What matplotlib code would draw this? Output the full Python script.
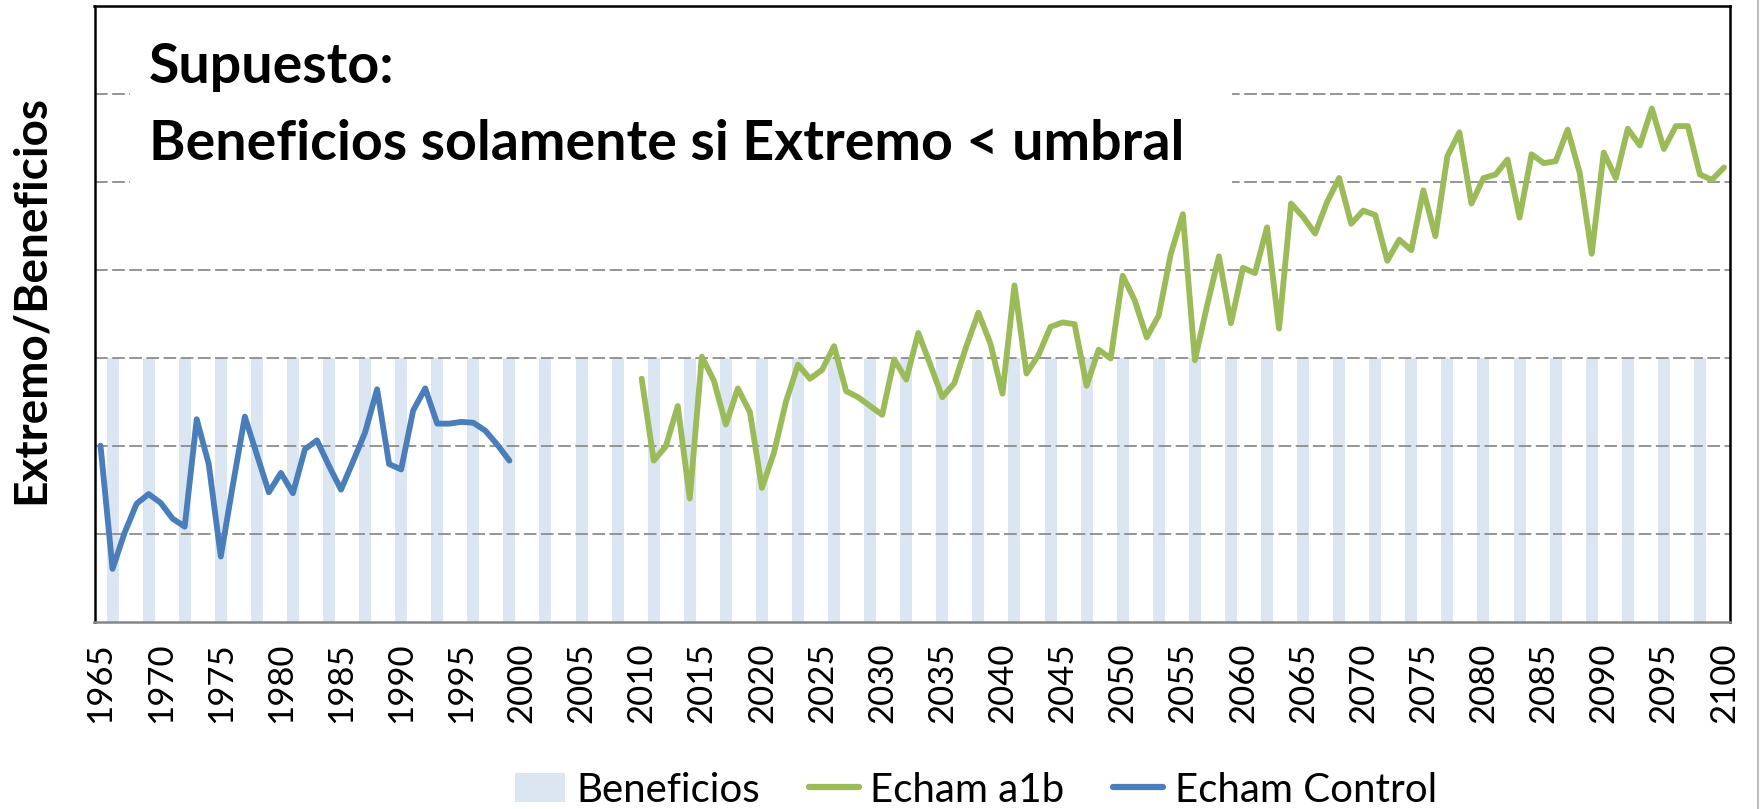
import matplotlib
matplotlib.use("Agg")
import matplotlib.pyplot as plt
from matplotlib.patches import Rectangle
from matplotlib.lines import Line2D

plt.rcParams['font.family'] = ['Lato', 'DejaVu Sans']

# Serie de control (Echam Control), 1965-1999
anios_control = list(range(1965, 2000))
echam_control = [2.00, 0.60, 1.01, 1.34, 1.45, 1.35, 1.17, 1.08, 2.30, 1.79,
                 0.74, 1.55, 2.33, 1.90, 1.47, 1.69, 1.46, 1.96, 2.06, 1.77,
                 1.50, 1.82, 2.15, 2.64, 1.79, 1.73, 2.40, 2.65, 2.25, 2.25,
                 2.27, 2.26, 2.17, 2.01, 1.83]

# Escenario a1b, 2010-2100
anios_a1b = list(range(2010, 2101))
echam_a1b = [2.76, 1.83, 1.99, 2.45, 1.40, 3.01, 2.74, 2.24, 2.65, 2.38,
             1.52, 1.92, 2.50, 2.92, 2.76, 2.86, 3.13, 2.62, 2.55, 2.45,
             2.35, 2.98, 2.75, 3.28, 2.92, 2.55, 2.71, 3.13, 3.51, 3.16,
             2.59, 3.82, 2.82, 3.03, 3.35, 3.40, 3.38, 2.68, 3.09, 2.99,
             3.93, 3.65, 3.23, 3.48, 4.18, 4.63, 2.97, 3.58, 4.15, 3.39,
             4.02, 3.96, 4.48, 3.33, 4.75, 4.60, 4.41, 4.77, 5.04, 4.52,
             4.67, 4.62, 4.10, 4.34, 4.22, 4.90, 4.38, 5.29, 5.56, 4.75,
             5.04, 5.08, 5.25, 4.59, 5.31, 5.21, 5.23, 5.59, 5.10, 4.18,
             5.33, 5.04, 5.60, 5.41, 5.83, 5.37, 5.63, 5.63, 5.08, 5.02,
             5.16]

# Beneficios (umbral = 3)
anios_benef = list(range(1966, 2099, 3))
beneficios = [3, 3, 3, 3, 3, 3, 3, 3, 3, 3, 3, 3, 3, 3, 3,
              3, 3, 3, 3, 3, 3, 3, 3, 3, 3, 3, 3, 3, 3, 3,
              3, 3, 3, 3, 3, 3, 3, 3, 3, 3, 3, 3, 3, 3, 3]

etiquetas_x = list(range(1965, 2101, 5))

fig = plt.figure(figsize=(17.6, 8.09), dpi=100)
ax = fig.add_axes([94.5 / 1760, 1 - 621.7 / 809, (1730 - 94.5) / 1760, (621.7 - 5.5) / 809])

ax.bar(anios_benef, beneficios, width=1.0, color='#dce6f2', zorder=1,
       label='Beneficios')
ax.plot(anios_a1b, echam_a1b, color='#9bbb59', lw=4.2, zorder=3,
        solid_joinstyle='round', solid_capstyle='round', label='Echam a1b')
ax.plot(anios_control, echam_control, color='#4a7ebb', lw=4.2, zorder=3,
        solid_joinstyle='round', solid_capstyle='round', label='Echam Control')

ax.set_xlim(1964.5, 2100.5)
ax.set_ylim(0, 7)
ax.set_yticks(range(1, 7))
ax.set_yticklabels([])
ax.tick_params(axis='y', length=0)
ax.yaxis.grid(True, color='#8c8c8c', lw=1.3, ls=(0, (7, 2.5)))
for gl in ax.get_ygridlines():
    gl.set_zorder(1.5)

ax.set_xticks(etiquetas_x)
ax.set_xticklabels([str(a) for a in etiquetas_x], rotation=90, fontsize=25)
ax.tick_params(axis='x', length=0, pad=15)

for lado in ['left', 'top', 'right']:
    ax.spines[lado].set_color('black')
    ax.spines[lado].set_linewidth(1.8)
ax.spines['bottom'].set_color('#868686')
ax.spines['bottom'].set_linewidth(1.8)

# Cuadro de texto con el supuesto
ax.add_patch(Rectangle((0.0217, 0.66), 0.674, 0.316, transform=ax.transAxes,
                       facecolor='white', edgecolor='none', zorder=2))
ax.text(0.0333, 0.900, 'Supuesto:', transform=ax.transAxes, fontsize=40,
        fontweight='bold', va='center', ha='left', zorder=4)
ax.text(0.0333, 0.776, 'Beneficios solamente si Extremo < umbral',
        transform=ax.transAxes, fontsize=40, fontweight='bold',
        va='center', ha='left', zorder=4)

fig.text(31 / 1760, 1 - 300 / 809, 'Extremo/Beneficios', rotation=90,
         fontsize=33, fontweight='bold', ha='center', va='center')

handles = [Rectangle((0, 0), 1, 1, facecolor='#dce6f2'),
           Line2D([], [], color='#9bbb59', lw=4.5, solid_capstyle='round'),
           Line2D([], [], color='#4a7ebb', lw=4.5, solid_capstyle='round')]
fig.legend(handles, ['Beneficios', 'Echam a1b', 'Echam Control'],
           loc='center', bbox_to_anchor=(976 / 1760, 1 - 790 / 809),
           ncol=3, frameon=False, fontsize=29, handlelength=1.25,
           handletextpad=0.28, columnspacing=1.2)

# borde exterior del gráfico
fig.add_artist(Line2D([1758 / 1760, 1758 / 1760], [0, 1], color='#bfbfbf',
                      lw=1.5, transform=fig.transFigure))

fig.savefig('out.png', dpi=100)
